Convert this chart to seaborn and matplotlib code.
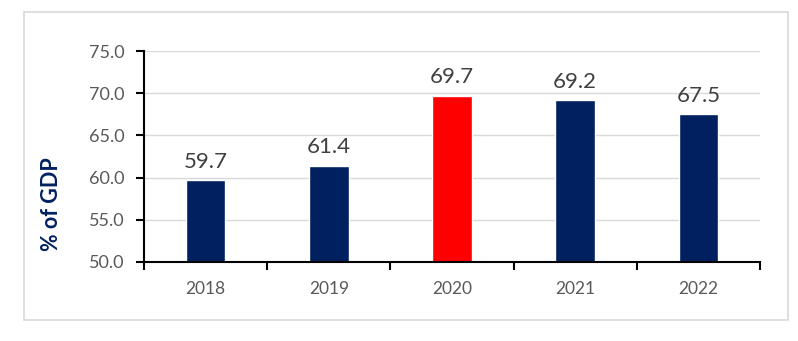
import matplotlib
matplotlib.use("Agg")
import matplotlib.pyplot as plt
import matplotlib.patches as mpatches
import seaborn as sns
import pandas as pd
from matplotlib.ticker import FormatStrFormatter, FixedLocator

years = ["2018", "2019", "2020", "2021", "2022"]
values = [59.7, 61.4, 69.7, 69.2, 67.5]
bar_colors = ["#002060", "#002060", "#FF0000", "#002060", "#002060"]
y_ticks = [50.0, 55.0, 60.0, 65.0, 70.0, 75.0]

df = pd.DataFrame({"year": years, "value": values})

sns.set_theme(style="white")
plt.rcParams['font.family'] = ['Lato', 'DejaVu Sans']

fig = plt.figure(figsize=(7.98, 3.41), dpi=100)
fig.patch.set_facecolor("white")
# outer border
fig.patches.append(mpatches.Rectangle((24/798, 1-320/341), (788-24)/798, (320-12)/341,
                                      transform=fig.transFigure, fill=False,
                                      edgecolor="#D9D9D9", linewidth=1.2))

ax = fig.add_axes([144/798, 1-262/341, (760-144)/798, (262-51)/341])
sns.barplot(data=df, x="year", y="value", hue="year", palette=bar_colors,
            width=0.32, legend=False, ax=ax, saturation=1)

ax.set_ylim(50, 75)
ax.set_xlim(-0.5, 4.5)
ax.set_yticks(y_ticks)
ax.yaxis.set_major_formatter(FormatStrFormatter("%.1f"))
ax.yaxis.grid(True, color="#D9D9D9", linewidth=1)
ax.set_axisbelow(True)

for s in ["top", "right"]:
    ax.spines[s].set_visible(False)
for s in ["left", "bottom"]:
    ax.spines[s].set_color("black")
    ax.spines[s].set_linewidth(1.5)

ax.tick_params(axis="y", which="major", direction="out", length=6, width=1.5,
               color="black", labelsize=13, labelcolor="#595959", left=True, pad=8)
ax.tick_params(axis="x", which="major", length=0, labelsize=12.5,
               labelcolor="#595959", pad=14)
ax.xaxis.set_minor_locator(FixedLocator([-0.5, 0.5, 1.5, 2.5, 3.5, 4.5]))
ax.tick_params(axis="x", which="minor", direction="out", length=6, width=1.5,
               color="black", bottom=True)

for c in ax.containers:
    ax.bar_label(c, labels=[f"{v:.1f}" for v in c.datavalues], padding=6,
                 fontsize=16, color="#404040")

ax.set_xlabel("")
ax.set_ylabel("% of GDP", fontsize=15.5, fontweight="bold", color="#002060")
ax.yaxis.set_label_coords((62-144)/(760-144), (262-204)/(262-51))

fig.savefig("out.png", dpi=100)
